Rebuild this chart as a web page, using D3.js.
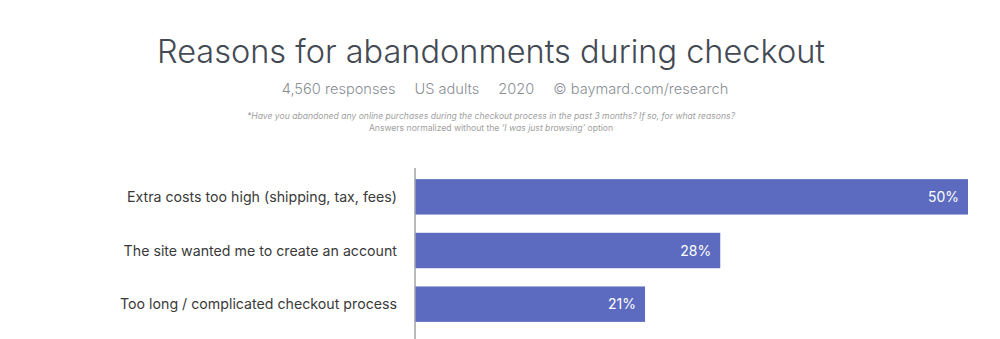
<!DOCTYPE html>
<html>
<head>
<meta charset="utf-8">
<script src="https://cdn.jsdelivr.net/npm/d3@7"></script>
<style>
  body { margin: 0; background: #fff; }
  svg { display: block; font-family: Inter, "Noto Sans", sans-serif; }
</style>
</head>
<body>
<svg id="chart" width="1000" height="339"></svg>
<script>
const title = 'Reasons for abandonments during checkout';
const subtitleParts = ['4,560 responses', 'US adults', '2020', '\u00a9 baymard.com/research'];
const categories = [
  'Extra costs too high (shipping, tax, fees)',
  'The site wanted me to create an account',
  'Too long / complicated checkout process'
];
const values = [50, 27.6, 20.8];

const svg = d3.select('#chart');
const centerX = 491;

svg.append('text')
  .attr('x', centerX)
  .attr('y', 63)
  .attr('text-anchor', 'middle')
  .attr('font-size', 32.5)
  .attr('font-weight', 300)
  .attr('fill', '#434a54')
  .text(title);

// subtitle items, spaced out and centred as a group
const sub = svg.append('g');
const gap = 19;
let cursor = 0;
subtitleParts.forEach(function (s) {
  const t = sub.append('text')
    .attr('y', 94)
    .attr('font-size', 14.6)
    .attr('font-weight', 300)
    .attr('fill', '#8a8f96')
    .text(s);
  t.attr('x', cursor);
  cursor += t.node().getComputedTextLength() + gap;
});
const subWidth = cursor - gap;
sub.attr('transform', 'translate(' + (505 - subWidth / 2) + ',0)');

const note = svg.append('text')
  .attr('x', centerX)
  .attr('text-anchor', 'middle')
  .attr('font-size', 8.6)
  .attr('fill', '#a0a0a0');
note.append('tspan')
  .attr('x', centerX).attr('y', 119)
  .attr('font-style', 'italic')
  .text('*Have you abandoned any online purchases during the checkout process in the past 3 months? If so, for what reasons?');
const line2 = note.append('tspan').attr('x', centerX).attr('y', 131);
line2.append('tspan').text('Answers normalized without the ');
line2.append('tspan').attr('font-style', 'italic').text('\u2018I was just browsing\u2019');
line2.append('tspan').text(' option');

// bars
const x = d3.scaleLinear().domain([0, 50]).range([415, 968]);
const y = d3.scaleBand().domain(categories).range([170, 331]).paddingInner(0.34).paddingOuter(0.17);

svg.append('line')
  .attr('x1', 415).attr('x2', 415)
  .attr('y1', 168).attr('y2', 339)
  .attr('stroke', '#8c8c8c')
  .attr('stroke-width', 1.2);

svg.selectAll('rect.bar')
  .data(values)
  .join('rect')
  .attr('class', 'bar')
  .attr('x', x(0) + 0.5)
  .attr('y', (d, i) => y(categories[i]))
  .attr('width', d => x(d) - x(0) - 0.5)
  .attr('height', y.bandwidth())
  .attr('fill', '#5c6bc0');

svg.selectAll('text.val')
  .data(values)
  .join('text')
  .attr('class', 'val')
  .attr('x', d => x(d) - 9)
  .attr('y', (d, i) => y(categories[i]) + y.bandwidth() / 2)
  .attr('dy', '0.36em')
  .attr('text-anchor', 'end')
  .attr('font-size', 14)
  .attr('fill', '#fff')
  .text(d => Math.round(d) + '%');

svg.selectAll('text.cat')
  .data(categories)
  .join('text')
  .attr('class', 'cat')
  .attr('x', 397)
  .attr('y', d => y(d) + y.bandwidth() / 2)
  .attr('dy', '0.36em')
  .attr('text-anchor', 'end')
  .attr('font-size', 14.2)
  .attr('fill', '#3a3a3a')
  .text(d => d);
</script>
</body>
</html>
